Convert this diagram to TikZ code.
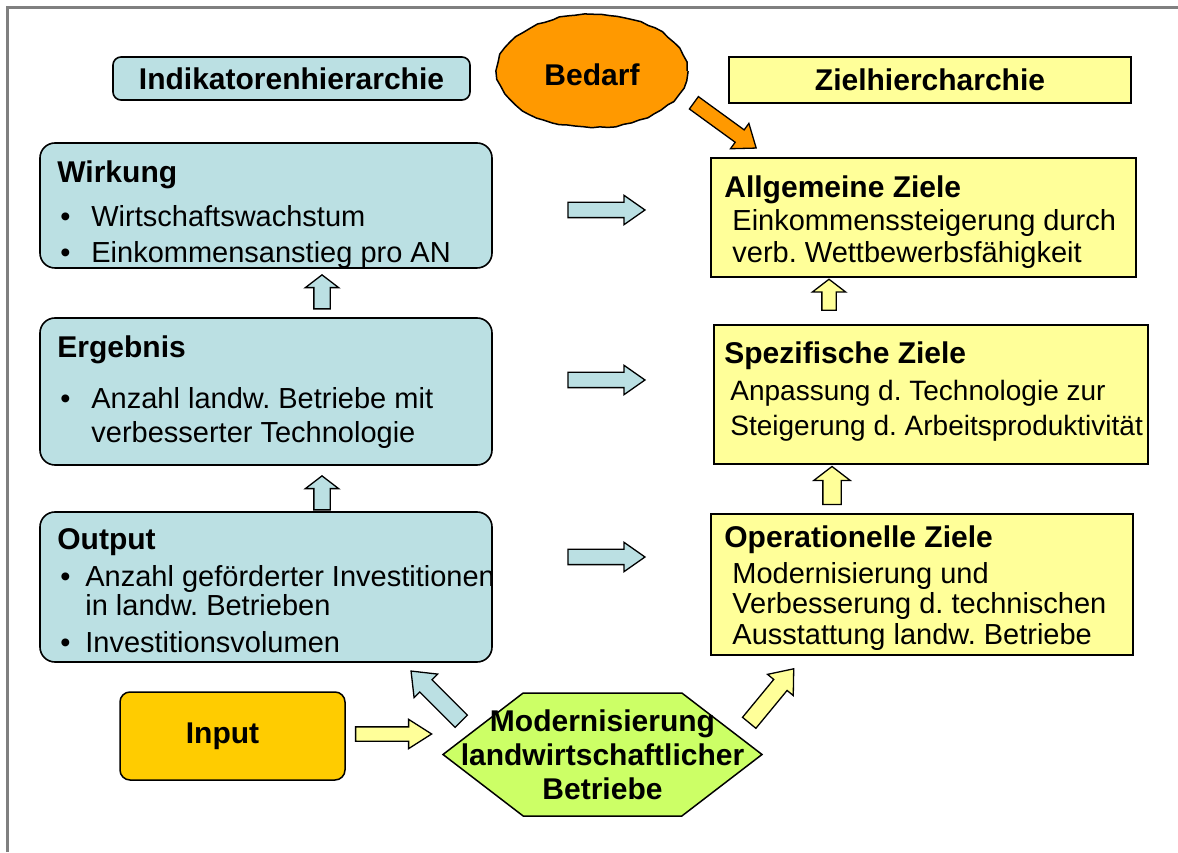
\documentclass[tikz,border=0pt]{standalone}
\usepackage{fontspec}
\setmainfont{Liberation Sans}
\usetikzlibrary{arrows,positioning,shapes,shapes.arrows,shapes.symbols,calc,decorations.pathmorphing}
\definecolor{lblue}{HTML}{BBE0E3}
\definecolor{lyellow}{HTML}{FFFF99}
\definecolor{bedarforange}{HTML}{FF9900}
\definecolor{inputgold}{HTML}{FFCC00}
\definecolor{hexgreen}{HTML}{CCFF66}
\newcommand{\blt}[1]{\makebox[#1][l]{\hspace{3pt}\textbullet}}
\frenchspacing

\begin{document}
\begin{tikzpicture}[x=1pt,y=1pt,
  bluebox/.style={draw,line width=1.6pt,fill=lblue,rounded corners=15pt},
  zielbox/.style={draw,line width=1.6pt,fill=lyellow},
  boxtext/.style={align=left,inner sep=0pt,font=\fontsize{29}{34}\selectfont},
  titlefont/.style={font=\bfseries\fontsize{30}{34}\selectfont},
  fatarrow/.style n args={4}{single arrow,draw,line width=1.3pt,inner xsep=0pt,
    minimum height=#1,inner ysep=#2,single arrow head extend=#3,
    single arrow tip angle=#4}]
  \useasboundingbox (0,0) rectangle (1178,852);
  \draw [gray,line width=3pt] (7,0) -- (7,844) -- (1178,844);

  % headers
  \node [bluebox,rounded corners=8pt,minimum width=357pt,minimum height=43pt,titlefont] (Indi) at (291.5,773.5) {Indikatorenhierarchie};
  \node [zielbox,minimum width=402pt,minimum height=46pt,titlefont] (Zielh) at (930,772) {Zielhiercharchie};
  \node [ellipse,draw,line width=1.5pt,fill=bedarforange,minimum width=190pt,minimum height=113pt,
    decorate,decoration={random steps,segment length=8pt,amplitude=1pt},titlefont] (Bedarf) at (592,781) {};
  \node [titlefont,inner sep=0pt] (Bedarf_t) at ([yshift=-4pt]Bedarf.center) {Bedarf};

  % indicator boxes
  \node [bluebox,minimum width=452pt,minimum height=125pt] (Wirk) at (266,646.5) {};
  \node [bluebox,minimum width=452pt,minimum height=147pt] (Erg) at (266,460.5) {};
  \node [bluebox,minimum width=452pt,minimum height=150pt] (Outp) at (266,265) {};
  \node [boxtext,below right=18.5pt and 18pt of Wirk.north west] (Wirk_t)
    {{\bfseries\fontsize{30}{34}\selectfont Wirkung}\\[10pt]
     \blt{34pt}Wirtschaftswachstum\\[2pt]
     \blt{34pt}Einkommensanstieg pro AN};
  \node [boxtext,below right=18.5pt and 18pt of Erg.north west] (Erg_t)
    {{\bfseries\fontsize{30}{34}\selectfont Ergebnis}\\[17pt]
     \blt{34pt}Anzahl landw. Betriebe mit\\[0pt]
     \hspace*{34pt}verbesserter Technologie};
  \node [boxtext,below right=17.5pt and 18pt of Outp.north west] (Outp_t)
    {{\bfseries\fontsize{30}{34}\selectfont Output}\\[3pt]
     \blt{28pt}Anzahl geförderter Investitionen\\[-5pt]
     \hspace*{28pt}in landw. Betrieben\\[3pt]
     \blt{28pt}Investitionsvolumen};

  % goal boxes
  \node [zielbox,minimum width=425pt,minimum height=119pt] (Allg) at (923.5,634.5) {};
  \node [zielbox,minimum width=434pt,minimum height=139pt] (Spez) at (931,457.5) {};
  \node [zielbox,minimum width=422pt,minimum height=141pt] (Oper) at (922,267.5) {};
  \node [boxtext,below right=18.5pt and 14pt of Allg.north west] (Allg_t)
    {{\bfseries\fontsize{30}{34}\selectfont Allgemeine Ziele}\\[-1pt]
     \hspace*{8pt}Einkommenssteigerung durch\\[-2pt]
     \hspace*{8pt}verb. Wettbewerbsfähigkeit};
  \node [boxtext,font=\fontsize{28}{34}\selectfont,below right=17.5pt and 11pt of Spez.north west] (Spez_t)
    {{\bfseries\fontsize{30}{34}\selectfont Spezifische Ziele}\\[3pt]
     \hspace*{6pt}Anpassung d. Technologie zur\\[1pt]
     \hspace*{6pt}Steigerung d. Arbeitsproduktivität};
  \node [boxtext,below right=12.5pt and 14pt of Oper.north west] (Oper_t)
    {{\bfseries\fontsize{30}{34}\selectfont Operationelle Ziele}\\[2pt]
     \hspace*{8pt}Modernisierung und\\[-4pt]
     \hspace*{8pt}Verbesserung d. technischen\\[-3pt]
     \hspace*{8pt}Ausstattung landw. Betriebe};

  % input and measure
  \node [draw,line width=1.5pt,fill=inputgold,rounded corners=10pt,minimum width=225pt,minimum height=88pt] (Input) at (232.5,116) {};
  \node [titlefont,inner sep=0pt] (Input_t) at ([xshift=-10pt]Input.center) {Input};
  \node [signal,signal to=west and east,signal pointer angle=75,draw,line width=1.5pt,
    fill=hexgreen,minimum width=319pt,minimum height=123pt] (Modern) at (602.5,97.5) {};
  \node [titlefont,align=center,inner sep=0pt] (Modern_t) at (Modern.center) {Modernisierung\\landwirtschaftlicher\\Betriebe};

  % block arrows
  \node [fatarrow={77pt}{7pt}{7pt}{70},fill=lblue] (A_w) at (601,642) {};
  \node [fatarrow={77pt}{7pt}{7pt}{70},fill=lblue] (A_e) at (601,472) {};
  \node [fatarrow={77pt}{7pt}{7pt}{70},fill=lblue] (A_o) at (601,295) {};
  \node [fatarrow={34pt}{7.5pt}{8.5pt}{105},fill=lblue,rotate=90] (U_1) at (322,557) {};
  \node [fatarrow={34pt}{7.5pt}{8.5pt}{105},fill=lblue,rotate=90] (U_2) at (322,356) {};
  \node [fatarrow={31pt}{6.5pt}{9.5pt}{105},fill=lyellow,rotate=90] (U_3) at (829,554.5) {};
  \node [fatarrow={38pt}{8.5pt}{9pt}{105},fill=lyellow,rotate=90] (U_4) at (832,363) {};
  \node [fatarrow={76pt}{6.5pt}{7.5pt}{65},fill=lyellow] (A_in) at (388,118) {};
  \node [fatarrow={71pt}{8pt}{8pt}{77},fill=lblue,rotate=135] (D_l) at (440,152) {};
  \node [fatarrow={70pt}{8pt}{8pt}{77},fill=lyellow,rotate=50.5] (D_r) at (768,152) {};
  \node [fatarrow={77pt}{7pt}{8pt}{75},fill=bedarforange,rotate=-36] (A_b) at (721,729.5) {};
\end{tikzpicture}
\end{document}
